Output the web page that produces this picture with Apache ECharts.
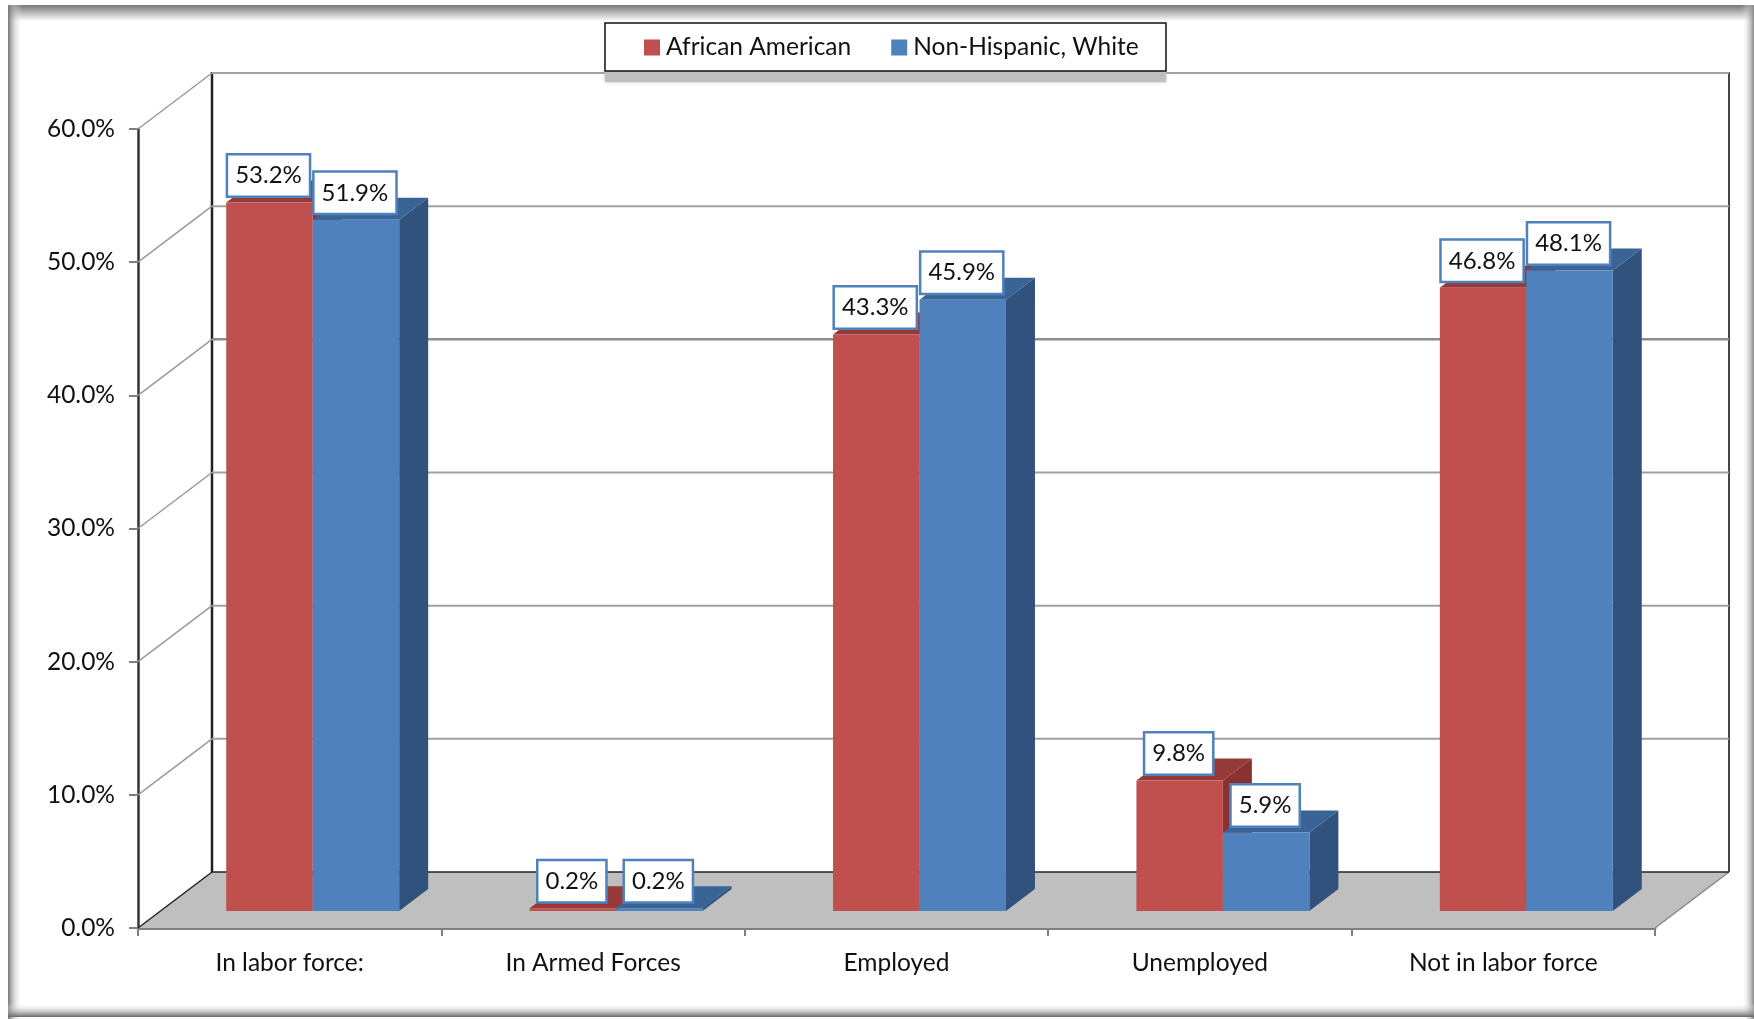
<!DOCTYPE html>
<html>
<head>
<meta charset="utf-8">
<style>html,body{margin:0;padding:0;background:#fff}#c{width:1754px;height:1019px}</style>
<script src="https://cdn.jsdelivr.net/npm/echarts@6/dist/echarts.min.js"></script>
</head>
<body>
<div id="c"></div>
<script>
var categories = ['In labor force:', 'In Armed Forces', 'Employed', 'Unemployed', 'Not in labor force'];
var africanAmerican = [53.2, 0.2, 43.3, 9.8, 46.8];
var nonHispanicWhite = [51.9, 0.2, 45.9, 5.9, 48.1];
var yTicks = [0, 10, 20, 30, 40, 50, 60];

var FONT = '"Lato", "Open Sans", sans-serif';
var DEPTH_X = 74, DEPTH_Y = 56;      // wall depth
var BAR_SHIFT_X = 23, BAR_SHIFT_Y = 17; // bars sit inside the floor
var BAR_DX = 29, BAR_DY = 22;        // bar depth
var BAR_RATIO = 0.285;

function poly(pts, fill) {
  return {type: 'polygon', shape: {points: pts}, style: {fill: fill}, silent: true};
}
function seg(x1, y1, x2, y2, stroke, w) {
  return {type: 'line', shape: {x1: x1, y1: y1, x2: x2, y2: y2}, style: {stroke: stroke, lineWidth: w}, silent: true};
}

function wallItem(params, api) {
  var r = params.coordSys, v = api.value(0), y = api.coord([0, v])[1];
  var left = r.x, right = r.x + r.width, kids = [];
  if (v === 0) {
    kids.push(poly([[left, y], [left + DEPTH_X, y - DEPTH_Y], [right + DEPTH_X, y - DEPTH_Y], [right, y]], '#BFBFBF'));
    kids.push(seg(left, y, left + DEPTH_X, y - DEPTH_Y, '#222', 1.5));
    kids.push(seg(right, y, right + DEPTH_X, y - DEPTH_Y, '#888', 1.5));
    kids.push(seg(left + DEPTH_X, y - DEPTH_Y, right + DEPTH_X, y - DEPTH_Y, '#222', 1.5));
    var topY = api.coord([0, 60])[1] - DEPTH_Y;
    kids.push(seg(left + DEPTH_X, topY - 1, left + DEPTH_X, y - DEPTH_Y, '#222', 2.5));
    kids.push(seg(right + DEPTH_X, topY - 1, right + DEPTH_X, y - DEPTH_Y, '#444', 2));
  } else {
    kids.push(seg(left, y, left + DEPTH_X, y - DEPTH_Y, '#999', 1.5));
    kids.push(seg(left + DEPTH_X, y - DEPTH_Y, right + DEPTH_X, y - DEPTH_Y, v === 40 ? '#8c8c8c' : '#a0a0a0', v === 40 ? 2.5 : 2));
  }
  return {type: 'group', children: kids};
}

function barRenderer(side, front, top, dark) {
  return function (params, api) {
    var idx = api.value(0), val = api.value(1);
    var p = api.coord([idx, val]), b = api.coord([idx, 0]);
    var w = api.size([1, 0])[0] * BAR_RATIO;
    var x0 = p[0] + BAR_SHIFT_X + (side < 0 ? -w : 0), x1 = x0 + w;
    var yT = p[1] - BAR_SHIFT_Y, yB = b[1] - BAR_SHIFT_Y;
    var text = val.toFixed(1) + '%';
    return {type: 'group', children: [
      poly([[x0, yT], [x0 + BAR_DX, yT - BAR_DY], [x1 + BAR_DX, yT - BAR_DY], [x1, yT]], top),
      poly([[x1, yT], [x1 + BAR_DX, yT - BAR_DY], [x1 + BAR_DX, yB - BAR_DY], [x1, yB]], dark),
      poly([[x0, yT], [x1, yT], [x1, yB], [x0, yB]], front),
      {type: 'text', z2: 100, silent: true, style: {
        text: text, x: (x0 + x1) / 2 - 1, y: yT - 27, align: 'center', verticalAlign: 'middle',
        fill: '#111', font: '24px ' + FONT, backgroundColor: '#fff',
        borderColor: '#4F81BD', borderWidth: 2.5, padding: [8, 7, 8, 7]
      }}
    ]};
  };
}

function pairs(values) { return values.map(function (v, i) { return [i, v]; }); }

var chart = echarts.init(document.getElementById('c'), null, {renderer: 'canvas'});
chart.setOption({
  animation: false,
  backgroundColor: '#fff',
  textStyle: {fontFamily: FONT},
  grid: {left: 138, right: 99, top: 129, bottom: 91, containLabel: false},
  legend: {
    data: ['African American', 'Non-Hispanic, White'],
    left: 644, top: 35,
    padding: 0,
    itemWidth: 16, itemHeight: 16, itemGap: 40,
    icon: 'rect',
    textStyle: {fontFamily: FONT, fontSize: 24.5, color: '#111', padding: [0, 0, 0, 1]},
    z: 21
  },
  xAxis: {
    type: 'category', data: categories, boundaryGap: true,
    axisLine: {lineStyle: {color: '#7f7f7f', width: 3}},
    axisTick: {show: true, alignWithLabel: false, length: 8, lineStyle: {color: '#7f7f7f', width: 2}},
    axisLabel: {margin: 23, fontFamily: FONT, fontSize: 24.5, color: '#111', interval: 0},
    splitLine: {show: false}
  },
  yAxis: {
    type: 'value', min: 0, max: 60, interval: 10,
    axisLine: {show: true, lineStyle: {color: '#333', width: 2.5}},
    axisTick: {show: true, length: 9, lineStyle: {color: '#7f7f7f', width: 2}},
    axisLabel: {margin: 23, fontFamily: FONT, fontSize: 24.5, color: '#111', padding: [3, 0, 0, 0],
      formatter: function (v) { return v.toFixed(1) + '%'; }},
    splitLine: {show: false}
  },
  graphic: [
    {type: 'rect', z: -10, silent: true, shape: {x: 8, y: 5, width: 1746, height: 16}, style: {fill: {type: 'linear', x: 0, y: 0, x2: 0, y2: 1, colorStops: [{offset: 0, color: '#777'}, {offset: 1, color: '#fff'}]}}},
    {type: 'rect', z: -10, silent: true, shape: {x: 8, y: 5, width: 14, height: 1014}, style: {fill: {type: 'linear', x: 0, y: 0, x2: 1, y2: 0, colorStops: [{offset: 0, color: '#777'}, {offset: 1, color: 'rgba(255,255,255,0)'}]}}},
    {type: 'rect', z: -10, silent: true, shape: {x: 1742, y: 5, width: 12, height: 1014}, style: {fill: {type: 'linear', x: 0, y: 0, x2: 1, y2: 0, colorStops: [{offset: 0, color: 'rgba(255,255,255,0)'}, {offset: 1, color: '#888'}]}}},
    {type: 'rect', z: -10, silent: true, shape: {x: 8, y: 1003, width: 1746, height: 14}, style: {fill: {type: 'linear', x: 0, y: 0, x2: 0, y2: 1, colorStops: [{offset: 0, color: 'rgba(255,255,255,0)'}, {offset: 1, color: '#666'}]}}},
    {type: 'rect', z: 18, silent: true, shape: {x: 605, y: 70, width: 561, height: 12}, style: {fill: '#BFBFBF', shadowBlur: 3, shadowColor: '#BFBFBF'}},
    {type: 'rect', z: 19, silent: true, shape: {x: 605, y: 23, width: 561, height: 48}, style: {fill: '#fff', stroke: '#111', lineWidth: 1.5}}
  ],
  series: [
    {name: 'walls', type: 'custom', silent: true, z: 1, data: yTicks.map(function (t) { return [t]; }),
      encode: {y: 0}, renderItem: wallItem, clip: false},
    {name: 'African American', type: 'custom', z: 5, data: pairs(africanAmerican), encode: {x: 0, y: 1},
      itemStyle: {color: '#C0504D'}, clip: false, renderItem: barRenderer(-1, '#C0504D', '#953A38', '#8A3230')},
    {name: 'Non-Hispanic, White', type: 'custom', z: 6, data: pairs(nonHispanicWhite), encode: {x: 0, y: 1},
      itemStyle: {color: '#4F81BD'}, clip: false, renderItem: barRenderer(1, '#4F81BD', '#3A6396', '#31527C')}
  ]
});
</script>
</body>
</html>
